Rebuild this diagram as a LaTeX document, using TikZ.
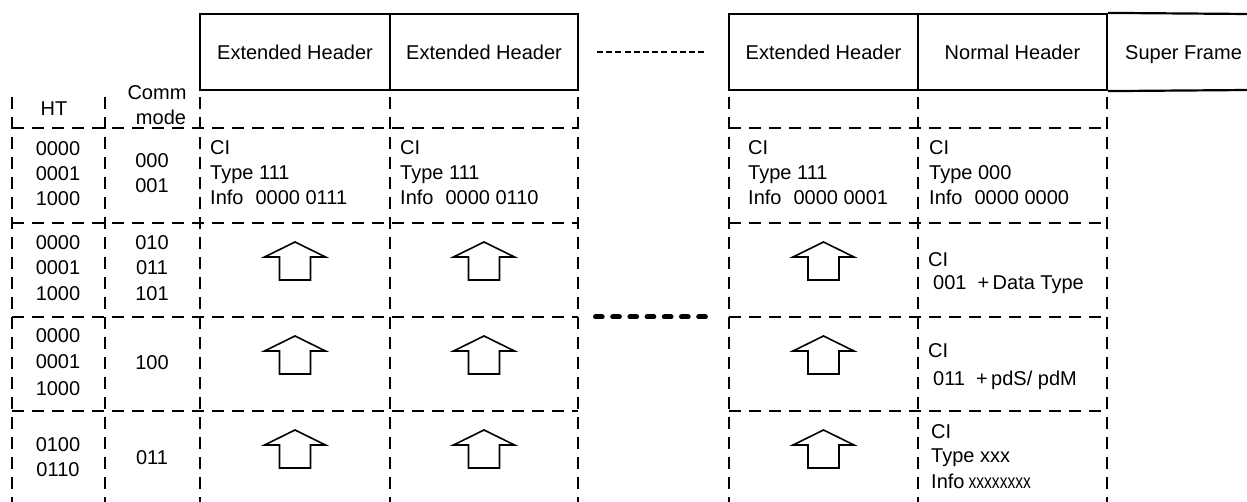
\documentclass[tikz,border=0pt]{standalone}
\usepackage{fontspec}
\setmainfont{Liberation Sans}
\tikzset{
  txt/.style={inner sep=0pt, font=\fontsize{20}{24}\selectfont},
  hbox/.style={draw, line width=2.2pt, inner sep=0pt, minimum height=76pt, font=\fontsize{20}{24}\selectfont},
  gridline/.style={line width=1.5pt, dash pattern=on 12pt off 8pt},
  uparrow/.style={line width=1.6pt, line join=miter},
  topdots/.style={line width=2pt, dash pattern=on 6pt off 3.2pt},
  middots/.style={line width=5pt, line cap=round, dash pattern=on 6.7pt off 10.5pt},
}
\newcommand{\lefttxt}[4]{\node[txt, anchor=base west] (#1) at (#2,#3) {#4};}
\newcommand{\midtxt}[4]{\node[txt, anchor=base] (#1) at (#2,#3) {#4};}
\begin{document}
\begin{tikzpicture}[x=1pt,y=-1pt]
\useasboundingbox (0,0) rectangle (1247,502);

% header boxes
\node[hbox, minimum width=190pt] (h1) at (295,52) {Extended Header};
\node[hbox, minimum width=188pt] (h2) at (484,52) {Extended Header};
\node[hbox, minimum width=189pt] (h3) at (823.5,52) {Extended Header};
\node[hbox, minimum width=189pt] (h4) at (1012.5,52) {Normal Header};
\coordinate (sfa) at (1248,14);
\coordinate (sfb) at (1248,90);
\draw[line width=2.2pt] (h4.north east) -- (sfa) (h4.south east) -- (sfb);
\lefttxt{sf}{1125}{60}{Super Frame}
\draw[topdots] (597,52) -- (707,52);

% dashed grid
\foreach \x in {12,105,200,390,578,729,918,1107}
  \draw[gridline] (\x,97) -- (\x,502);
\foreach \y in {128,223,317,411} {
  \draw[gridline] (12,\y) -- (578,\y);
  \draw[gridline] (729,\y) -- (1107,\y);
}
\draw[middots] (595.5,317) -- (705.5,317);

% up arrows
\foreach \cx in {295,484,823.5}
  \foreach \ry in {223,317,411}
    \draw[uparrow] (\cx,{\ry+19}) -- ({\cx+30.5},{\ry+34}) -- ({\cx+15.5},{\ry+34})
      -- ({\cx+15.5},{\ry+57}) -- ({\cx-15.5},{\ry+57}) -- ({\cx-15.5},{\ry+34})
      -- ({\cx-30.5},{\ry+34}) -- cycle;

% left header
\midtxt{ht}{54}{116}{HT}
\midtxt{cm}{157}{100}{Comm}
\midtxt{md}{161}{125}{mode}

% row 1
\midtxt{a1}{58}{156}{0000}
\midtxt{a2}{58}{181}{0001}
\midtxt{a3}{58}{206}{1000}
\midtxt{b1}{152}{168}{000}
\midtxt{b2}{152}{193}{001}
\lefttxt{ca1}{210}{155}{CI}
\lefttxt{ca2}{210}{180}{Type 111}
\lefttxt{ca3}{210}{205}{Info\hspace{12pt}0000 0111}
\lefttxt{cb1}{400}{155}{CI}
\lefttxt{cb2}{400}{180}{Type 111}
\lefttxt{cb3}{400}{205}{Info\hspace{12pt}0000 0110}
\lefttxt{cc1}{748}{155}{CI}
\lefttxt{cc2}{748}{180}{Type 111}
\lefttxt{cc3}{748}{205}{Info\hspace{12pt}0000 0001}
\lefttxt{cd1}{929}{155}{CI}
\lefttxt{cd2}{929}{180}{Type 000}
\lefttxt{cd3}{929}{205}{Info\hspace{12pt}0000 0000}

% row 2
\midtxt{d1}{58}{250}{0000}
\midtxt{d2}{58}{275}{0001}
\midtxt{d3}{58}{301}{1000}
\midtxt{e1}{152}{250}{010}
\midtxt{e2}{152}{275}{011}
\midtxt{e3}{152}{301}{101}
\lefttxt{f1}{928}{267}{CI}
\lefttxt{f2}{933}{290}{001~~+\,Data Type}

% row 3
\midtxt{g1}{58}{343}{0000}
\midtxt{g2}{58}{369}{0001}
\midtxt{g3}{58}{395}{1000}
\midtxt{h}{152}{370}{100}
\lefttxt{i1}{928}{357}{CI}
\lefttxt{i2}{933}{385}{011~~+\,pdS/ pdM}

% row 4
\midtxt{j1}{58}{451}{0100}
\midtxt{j2}{58}{476}{0110}
\midtxt{k}{152}{464}{011}
\lefttxt{l1}{931}{438}{CI}
\lefttxt{l2}{931}{462}{Type xxx}
\lefttxt{l3}{931}{488}{Info\hspace{4pt}\scalebox{0.78}[1]{xxxxxxxx}}
\end{tikzpicture}
\end{document}
